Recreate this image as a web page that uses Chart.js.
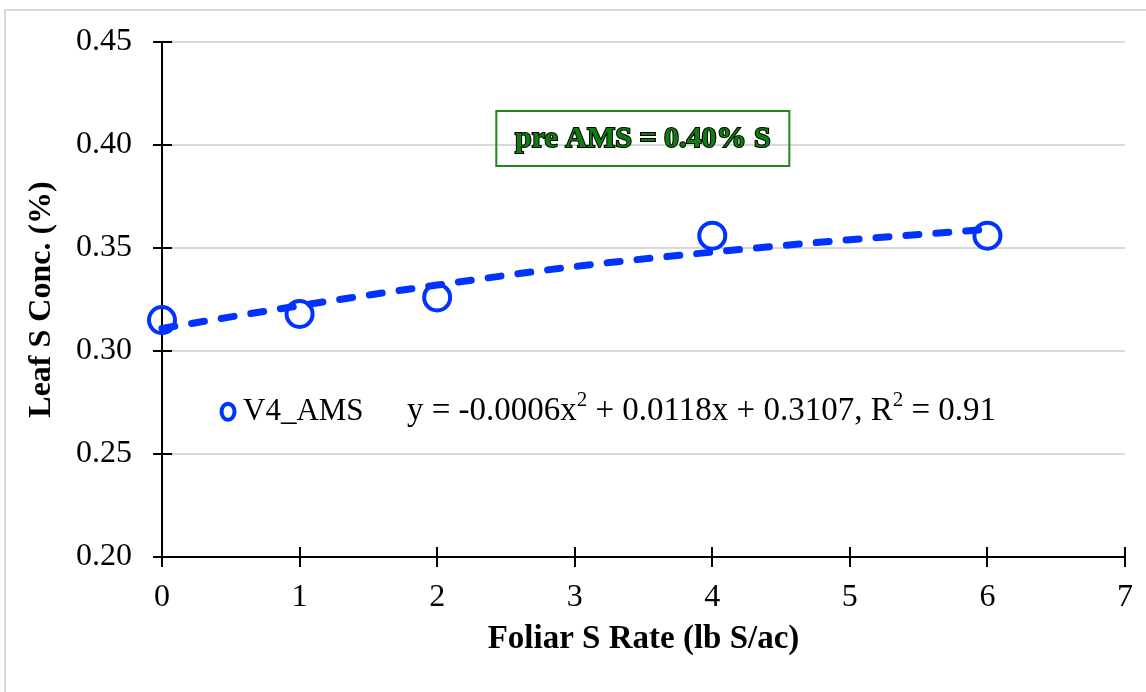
<!DOCTYPE html>
<html>
<head>
<meta charset="utf-8">
<title>Leaf S Conc. vs Foliar S Rate</title>
<script src="https://cdn.jsdelivr.net/npm/chart.js@4.4.1/dist/chart.umd.min.js"></script>
<style>
  body { margin: 0; background: #fff; }
  #wrap { width: 1146px; height: 692px; }
</style>
</head>
<body>
<div id="wrap"><canvas id="chart" width="1146" height="692"></canvas></div>
<script>
// measured points, V4_AMS
const rates = [0, 1, 2, 4, 6];
const leafS = [0.315, 0.318, 0.326, 0.356, 0.356];

// trendline
const trendRates = [0, 1, 2, 3, 4, 5, 6];
const trendLeafS = [0.311, 0.322, 0.332, 0.341, 0.348, 0.354, 0.359];

const xTicks = [0, 1, 2, 3, 4, 5, 6, 7];
const yTicks = [0.20, 0.25, 0.30, 0.35, 0.40, 0.45];

const seriesName = "V4_AMS";
const noteText = "pre AMS = 0.40% S";

const BLUE = "#0033ff";
const SERIF = "'Liberation Serif', 'Times New Roman', serif";

// white page + light grey frame on top/left
const frame = {
  id: "frame",
  beforeDraw(chart) {
    const ctx = chart.ctx;
    ctx.save();
    ctx.fillStyle = "#fff";
    ctx.fillRect(0, 0, chart.width, chart.height);
    ctx.strokeStyle = "#d9d9d9";
    ctx.lineWidth = 2;
    ctx.beginPath();
    ctx.moveTo(5, chart.height);
    ctx.lineTo(5, 10);
    ctx.lineTo(chart.width, 10);
    ctx.stroke();
    ctx.restore();
  }
};

// ticks that cross the axis lines, like Excel's "cross" tick marks
const crossTicks = {
  id: "crossTicks",
  afterDraw(chart) {
    const ctx = chart.ctx;
    const xs = chart.scales.x, ys = chart.scales.y;
    const ax = xs.getPixelForValue(0), ay = ys.getPixelForValue(0.20);
    ctx.save();
    ctx.strokeStyle = "#000";
    ctx.lineWidth = 2;
    ctx.beginPath();
    yTicks.forEach(v => {
      const py = Math.round(ys.getPixelForValue(v));
      ctx.moveTo(ax - 9, py);
      ctx.lineTo(ax + 10, py);
    });
    xTicks.forEach(v => {
      const px = Math.round(xs.getPixelForValue(v));
      ctx.moveTo(px, ay - 10);
      ctx.lineTo(px, ay + 10);
    });
    ctx.stroke();
    ctx.restore();
  }
};

function drawWithSup(ctx, parts, x, y) {
  parts.forEach(([txt, sup]) => {
    ctx.font = sup ? "21px " + SERIF : "33px " + SERIF;
    ctx.fillText(txt, x, sup ? y - 11 : y);
    x += ctx.measureText(txt).width;
  });
}

// legend entry with the trendline equation, and the green note box
const notes = {
  id: "notes",
  afterDraw(chart) {
    const ctx = chart.ctx;
    const xs = chart.scales.x, ys = chart.scales.y;
    ctx.save();

    // legend
    const ly = ys.getPixelForValue(0.2705);
    const lx = xs.getPixelForValue(0.48);
    ctx.strokeStyle = BLUE;
    ctx.lineWidth = 4;
    ctx.beginPath();
    ctx.ellipse(lx, ly, 6.5, 8, 0, 0, Math.PI * 2);
    ctx.stroke();

    ctx.fillStyle = "#000";
    ctx.textBaseline = "middle";
    ctx.textAlign = "left";
    ctx.font = "31px " + SERIF;
    ctx.fillText(seriesName, lx + 15, ly);

    drawWithSup(ctx, [
      ["y = -0.0006x", false], ["2", true],
      [" + 0.0118x + 0.3107, R", false], ["2", true],
      [" = 0.91", false]
    ], xs.getPixelForValue(1.78), ly);

    // note box
    const bx0 = xs.getPixelForValue(2.43), bx1 = xs.getPixelForValue(4.56);
    const by0 = ys.getPixelForValue(0.4165), by1 = ys.getPixelForValue(0.3898);
    ctx.strokeStyle = "#1b8a1b";
    ctx.lineWidth = 2;
    ctx.strokeRect(bx0, by0, bx1 - bx0, by1 - by0);

    ctx.font = "bold 30px " + SERIF;
    ctx.textAlign = "center";
    ctx.lineWidth = 2;
    ctx.strokeStyle = "#000";
    ctx.fillStyle = "#0d7d0d";
    const cx = (bx0 + bx1) / 2, cy = (by0 + by1) / 2 + 1;
    ctx.strokeText(noteText, cx, cy);
    ctx.fillText(noteText, cx, cy);

    ctx.restore();
  }
};

const ctx = document.getElementById("chart").getContext("2d");

new Chart(ctx, {
  type: "scatter",
  data: {
    datasets: [
      {
        label: "trend",
        data: trendRates.map((x, i) => ({ x: x, y: trendLeafS[i] })),
        showLine: true,
        borderColor: BLUE,
        borderWidth: 7,
        borderDash: [13, 17],
        borderCapStyle: "round",
        pointRadius: 0,
        cubicInterpolationMode: "monotone",
        clip: false,
        order: 0
      },
      {
        label: seriesName,
        data: rates.map((x, i) => ({ x: x, y: leafS[i] })),
        showLine: false,
        pointRadius: 13,
        pointBorderWidth: 4,
        pointBorderColor: BLUE,
        pointBackgroundColor: "rgba(0,0,0,0)",
        clip: false,
        order: 1
      }
    ]
  },
  options: {
    responsive: false,
    devicePixelRatio: 1,
    animation: false,
    events: [],
    layout: { padding: { top: 42, right: 21, left: 0, bottom: 0 } },
    plugins: {
      legend: { display: false },
      tooltip: { enabled: false }
    },
    scales: {
      x: {
        type: "linear",
        min: 0,
        max: 7,
        afterBuildTicks: scale => { scale.ticks = xTicks.map(v => ({ value: v })); },
        ticks: {
          color: "#000",
          font: { family: SERIF, size: 32 },
          padding: 21
        },
        grid: { drawOnChartArea: false, drawTicks: false },
        border: { color: "#000", width: 2 },
        title: {
          display: true,
          text: "Foliar S Rate (lb S/ac)",
          color: "#000",
          font: { family: SERIF, size: 33, weight: "bold" },
          padding: { top: 0, bottom: 33 }
        },
        afterFit: scale => {
          scale.height = 135;
          scale.paddingLeft = 0;
          scale.paddingRight = 0;
        }
      },
      y: {
        type: "linear",
        min: 0.2,
        max: 0.45,
        afterBuildTicks: scale => { scale.ticks = yTicks.map(v => ({ value: v })); },
        ticks: {
          color: "#000",
          font: { family: SERIF, size: 32 },
          padding: 30,
          callback: v => v.toFixed(2)
        },
        grid: { color: "#d9d9d9", lineWidth: 2, drawTicks: false },
        border: { color: "#000", width: 2 },
        title: {
          display: true,
          text: "Leaf S Conc. (%)",
          color: "#000",
          font: { family: SERIF, size: 32, weight: "bold" },
          padding: { top: 23, bottom: 0 }
        },
        afterFit: scale => {
          scale.width = 162;
          scale.paddingTop = 0;
          scale.paddingBottom = 0;
        }
      }
    }
  },
  plugins: [frame, crossTicks, notes]
});
</script>
</body>
</html>
